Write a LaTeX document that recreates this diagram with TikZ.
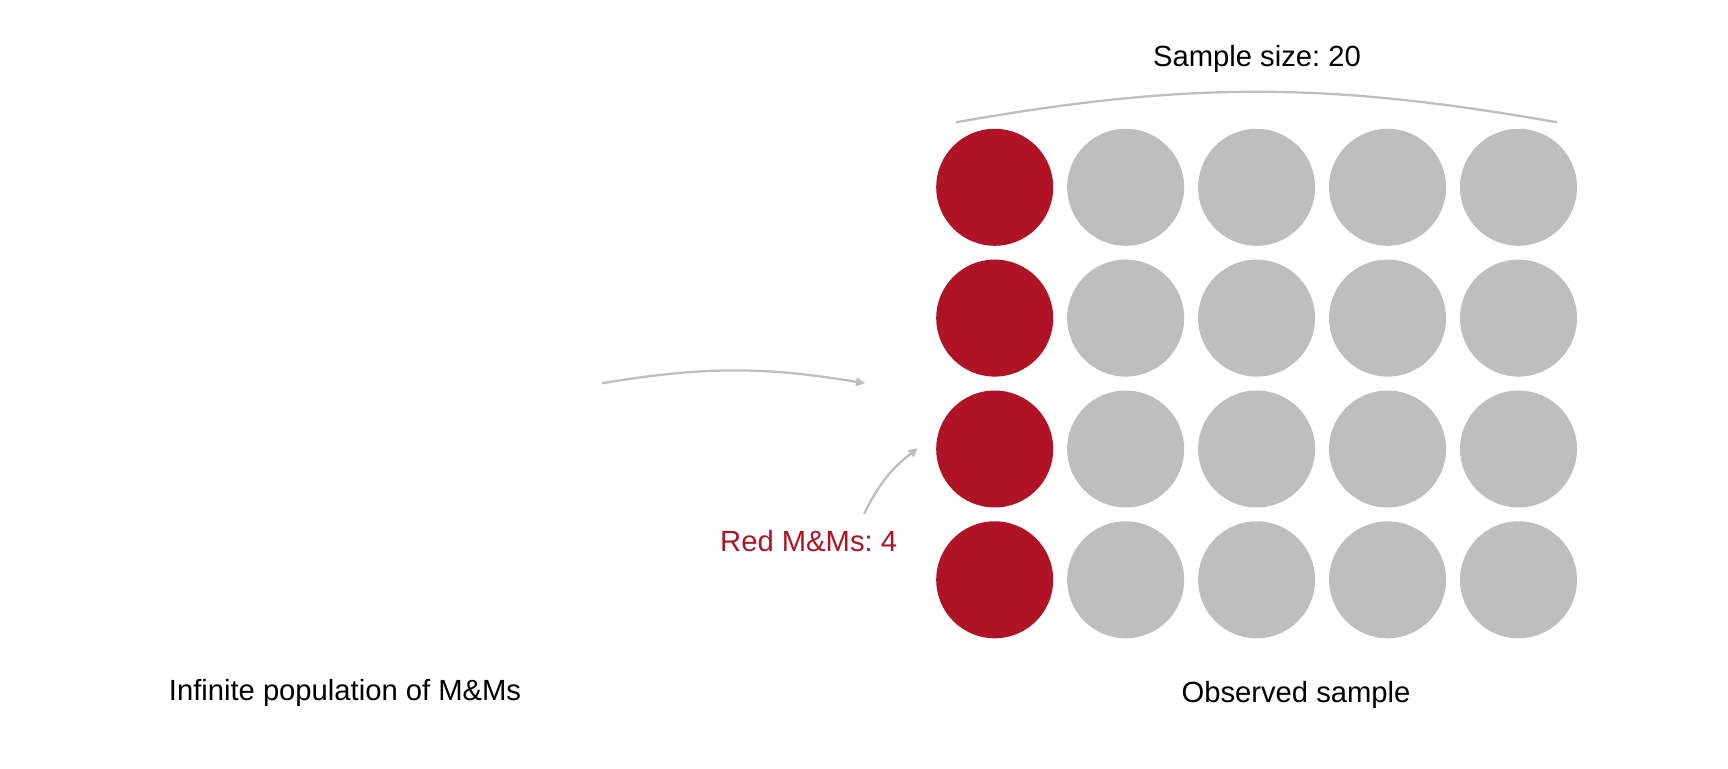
\documentclass[tikz,border=0pt]{standalone}
\usepackage{fontspec}
\setmainfont{Liberation Sans}
\usetikzlibrary{arrows.meta}
\definecolor{mmred}{HTML}{B01325}
\definecolor{mmgrey}{HTML}{BEBEBE}
\frenchspacing
\begin{document}
\begin{tikzpicture}[x=1pt,y=1pt,
  ball/.style={circle,minimum size=117pt,inner sep=0pt,draw=none},
  redball/.style={ball,fill=mmred},
  greyball/.style={ball,fill=mmgrey},
  lbl/.style={inner sep=0pt,anchor=base,font=\fontsize{29.2}{35}\selectfont},
  conn/.style={draw=mmgrey,line width=2.3pt},
  arr/.style={conn,-{Triangle[length=9pt,width=8.5pt]}}]
\useasboundingbox (0,0) rectangle (1728,768);
\foreach \r [count=\ri from 0] in {580.7,449.9,319.0,188.2}{
  \foreach \k in {0,...,4}{
    \pgfmathsetmacro{\cx}{994.7+130.95*\k}
    \ifnum\k=0
      \node[redball] (c-\ri-\k) at (\cx,\r) {};
    \else
      \node[greyball] (c-\ri-\k) at (\cx,\r) {};
    \fi
  }
}
\coordinate (bl) at (956,645.7);
\coordinate (br) at (1557,645.7);
\draw[conn] (bl) to[bend left=10] (br);
\node[lbl] (size) at (1257,701.3) {Sample size: 20};
\coordinate (pa) at (601.7,384.7);
\coordinate (pb) at (865,384.7);
\draw[arr] (pa) to[bend left=9.5] (pb);
\coordinate (ra) at (864,254);
\coordinate (rb) at (917.7,319.7);
\draw[arr] (ra) to[bend left=13] (rb);
\node[lbl,anchor=base east,text=mmred] (red) at (897.3,216.3) {Red M\&Ms: 4};
\node[lbl] (pop) at (345,67.3) {Infinite population of M\&Ms};
\node[lbl] (obs) at (1296,66) {Observed sample};
\end{tikzpicture}
\end{document}
